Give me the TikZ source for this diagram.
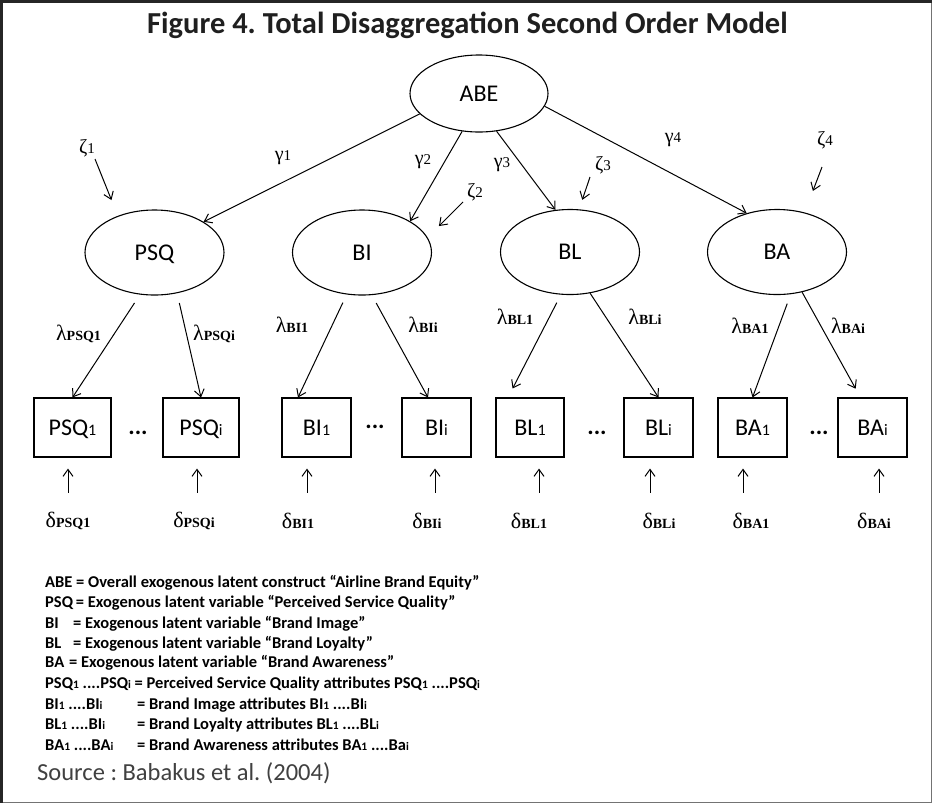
\documentclass[tikz,border=0pt]{standalone}
\usepackage{fontspec}
\setmainfont{Liberation Serif}
\newfontfamily\carl{Carlito}
\usetikzlibrary{shapes.geometric,arrows.meta,calc}
\frenchspacing
\newcommand\myfs[1]{\fontsize{#1}{#1}\selectfont}
\newcommand\boxsm[1]{{\myfs{16}#1}}
\newcommand\legsm[1]{{\myfs{11.5}#1}}
\newcommand\gksub[2]{{\myfs{20}#1}{\myfs{15}#2}}
\newcommand\gklow[2]{{\myfs{22}#1}{\myfs{14}\bfseries #2}}
\tikzset{
  lat/.style={draw, ellipse, line width=1.1pt, minimum width=139pt, minimum height=85pt, inner sep=0pt, text height=15.5pt, text depth=0pt, font=\carl\myfs{24}},
  obs/.style={draw, rectangle, line width=1.1pt, minimum height=59pt, minimum width=69pt, inner sep=0pt, text height=15.5pt, text depth=0pt, font=\carl\myfs{24}},
  arr/.style={-{Straight Barb[length=7pt,width=10pt]}, line width=1pt},
  glab/.style={inner sep=0pt},
  dotsn/.style={inner sep=0pt, font=\carl\bfseries\myfs{24}},
  leg/.style={anchor=base west, inner sep=0pt, font=\carl\bfseries\myfs{16.5}}
}
\begin{document}
\begin{tikzpicture}[x=1pt,y=-1pt]
\useasboundingbox (0,0) rectangle (933,804);
% frame
\draw[black!55, line width=1.6pt] (931.5,1.5) -- (931.5,802.5) -- (1.5,802.5);
\draw[black!85, line width=2.6pt] (1.5,802.5) -- (1.5,1.5) -- (931.5,1.5);
% title
\node[anchor=base, inner sep=0pt, font=\carl\bfseries\myfs{30.5}, text=black!88] (title) at (467.5,33) {Figure 4. Total Disaggregation Second Order Model};
% latent
\node[lat, minimum width=138pt, minimum height=77pt] (abe) at (479,93.5) {ABE};
\node[lat] (psq) at (154.5,252.5) {PSQ};
\node[lat] (bi) at (362,252.5) {BI};
\node[lat] (bl) at (570,252) {BL};
\node[lat] (ba) at (777,252) {BA};
% observed
\node[obs, minimum width=77pt] (psq1) at (72.5,427.5) {PSQ\boxsm{1}};
\node[obs, minimum width=76pt] (psqi) at (201,427.5) {PSQ\boxsm{i}};
\node[obs] (bi1) at (316.5,427.5) {BI\boxsm{1}};
\node[obs] (bii) at (436.5,427.5) {BI\boxsm{i}};
\node[obs, minimum width=68pt] (bl1) at (530,427.5) {BL\boxsm{1}};
\node[obs] (bli) at (658.5,427.5) {BL\boxsm{i}};
\node[obs] (ba1) at (752.5,427.5) {BA\boxsm{1}};
\node[obs] (bai) at (872.5,427.5) {BA\boxsm{i}};
\node[dotsn] (dt1) at (138,433) {...};
\node[dotsn] (dt2) at (375,427) {...};
\node[dotsn] (dt3) at (597,433) {...};
\node[dotsn] (dt4) at (819,433) {...};
% gamma
\draw[arr] (abe.199) -- (psq.32);
\draw[arr] (abe.246) -- (bi.33);
\draw[arr] (abe.295) -- (bl.109);
\draw[arr] (abe.349) -- (ba.128);
\node[glab] (g1) at (283,158) {\gksub{γ}{1}};
\node[glab] (g2) at (423,162) {\gksub{γ}{2}};
\node[glab] (g3) at (502,165) {\gksub{γ}{3}};
\node[glab] (g4) at (673,140) {\gksub{γ}{4}};
% zeta
\node[glab] (z1) at (87,148) {\gksub{ζ}{1}};
\node[glab] (z2) at (475,192) {\gksub{ζ}{2}};
\node[glab] (z3) at (603,165) {\gksub{ζ}{3}};
\node[glab] (z4) at (825,140) {\gksub{ζ}{4}};
\draw[arr, shorten >=17pt] ($(z1)+(8,11)$) -- (psq.135);
\draw[arr, shorten >=16pt] ($(z2)+(-12,10)$) -- (bi.13);
\draw[arr, shorten >=10pt] ($(z3)+(-13,12)$) -- (bl.78);
\draw[arr, shorten >=23pt] ($(z4)+(-3,27)$) -- (ba.55);
% lambda
\draw[arr, shorten <=10pt] (psq.251) -- (psq1.north);
\draw[arr, shorten <=10pt] (psq.299) -- (psqi.north);
\draw[arr, shorten <=9pt] (bi.250) -- ($(bi1.north)+(-18.5,0)$);
\draw[arr, shorten <=9pt] (bi.283) -- ($(bii.north)+(-8.5,0)$);
\draw[arr, shorten <=9pt, shorten >=10pt] (bl.258) -- ($(bl1.north)+(-22,0)$);
\draw[arr] (bl.296) -- (bli.north);
\draw[arr, shorten <=10pt] (ba.288) -- (ba1.north);
\draw[arr, shorten >=10pt] (ba.302) -- ($(bai.north)+(-12,0)$);
\node[glab] (lp1) at (78.5,334) {\gklow{λ}{PSQ1}};
\node[glab] (lpi) at (214,334) {\gklow{λ}{PSQi}};
\node[glab] (lb1) at (292,325) {\gklow{λ}{BI1}};
\node[glab] (lbi) at (423,325) {\gklow{λ}{BIi}};
\node[glab] (ll1) at (515,317) {\gklow{λ}{BL1}};
\node[glab] (lli) at (645,317) {\gklow{λ}{BLi}};
\node[glab] (la1) at (750,326) {\gklow{λ}{BA1}};
\node[glab] (lai) at (848,326) {\gklow{λ}{BAi}};
% delta
\node[glab] (dp1) at (68,521) {\gklow{δ}{PSQ1}};
\node[glab] (dpi) at (194,521) {\gklow{δ}{PSQi}};
\node[glab] (db1) at (298,521) {\gklow{δ}{BI1}};
\node[glab] (dbi) at (427,521) {\gklow{δ}{BIi}};
\node[glab] (dl1) at (529,521) {\gklow{δ}{BL1}};
\node[glab] (dli) at (659,521) {\gklow{δ}{BLi}};
\node[glab] (da1) at (751,521) {\gklow{δ}{BA1}};
\node[glab] (dai) at (874,521) {\gklow{δ}{BAi}};
\draw[arr] ($(psq1.south)+(-4.5,35)$) -- ($(psq1.south)+(-4.5,11)$);
\draw[arr] ($(psqi.south)+(-4,35)$) -- ($(psqi.south)+(-4,11)$);
\draw[arr] ($(bi1.south)+(-9.5,35)$) -- ($(bi1.south)+(-9.5,11)$);
\draw[arr] ($(bii.south)+(-1.5,35)$) -- ($(bii.south)+(-1.5,11)$);
\draw[arr] ($(bl1.south)+(9,35)$) -- ($(bl1.south)+(9,11)$);
\draw[arr] ($(bli.south)+(-8.5,35)$) -- ($(bli.south)+(-8.5,11)$);
\draw[arr] ($(ba1.south)+(-9.5,35)$) -- ($(ba1.south)+(-9.5,11)$);
\draw[arr] ($(bai.south)+(6.5,35)$) -- ($(bai.south)+(6.5,11)$);
% legend
\node[leg] (l1) at (45,587) {ABE = Overall exogenous latent construct “Airline Brand Equity”};
\node[leg] (l2) at (45,607) {PSQ\,= Exogenous latent variable “Perceived Service Quality”};
\node[leg] (l3k) at (45,628) {BI};
\node[leg] (l3) at (73,628) {= Exogenous latent variable “Brand Image”};
\node[leg] (l4k) at (45,648) {BL};
\node[leg] (l4) at (73,648) {= Exogenous latent variable “Brand Loyalty”};
\node[leg] (l5k) at (45,667) {BA};
\node[leg] (l5) at (69,667) {= Exogenous latent variable “Brand Awareness”};
\node[leg] (l6) at (45,688) {PSQ\legsm{1} ....PSQ\legsm{i} = Perceived Service Quality attributes PSQ\legsm{1} ....PSQ\legsm{i}};
\node[leg] (l7k) at (45,709) {BI\legsm{1} ....BI\legsm{i}};
\node[leg] (l7) at (137,709) {= Brand Image attributes BI\legsm{1} ....BI\legsm{i}};
\node[leg] (l8k) at (45,729) {BL\legsm{1} ....BI\legsm{i}};
\node[leg] (l8) at (137,729) {= Brand Loyalty attributes BL\legsm{1} ....BL\legsm{i}};
\node[leg] (l9k) at (45,750) {BA\legsm{1} ....BA\legsm{i}};
\node[leg] (l9) at (137,750) {= Brand Awareness attributes BA\legsm{1} ....Ba\legsm{i}};
\node[anchor=base west, inner sep=0pt, font=\carl\myfs{24.5}, text=black!75] (src) at (37,780) {Source : Babakus et al. (2004)};
\end{tikzpicture}
\end{document}
